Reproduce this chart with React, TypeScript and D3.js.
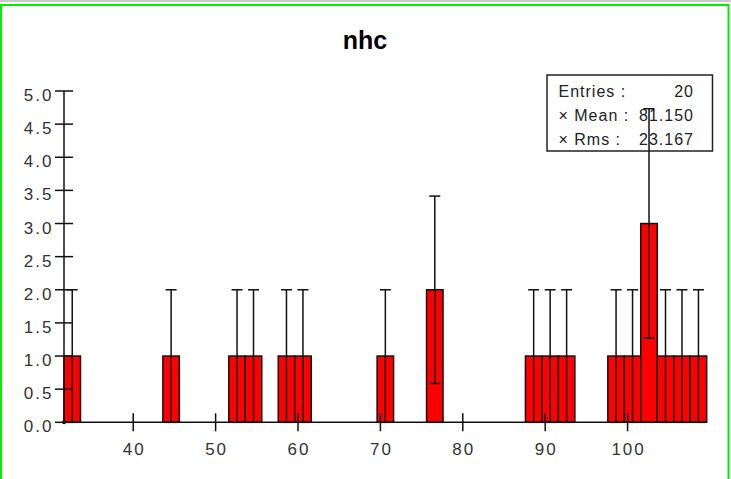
import React from "react";
import * as d3 from "d3";

// histogram "nhc": 39 bins of width 2 starting at 31.6
const binLow = 31.6;
const binWidth = 2.0;
const counts = [
  1, 0, 0, 0, 0, 0, 1, 0, 0, 0,
  1, 1, 0, 1, 1, 0, 0, 0, 0, 1,
  0, 0, 2, 0, 0, 0, 0, 0, 1, 1,
  1, 0, 0, 1, 1, 3, 1, 1, 1,
];
const xTicks = [40, 50, 60, 70, 80, 90, 100];
const yTicks = [0, 0.5, 1, 1.5, 2, 2.5, 3, 3.5, 4, 4.5, 5];
const statLabels = ["Entries :", "\u00d7 Mean :", "\u00d7 Rms :"];
const statValues = ["20", "81.150", "23.167"];

const W = 731;
const H = 479;
const font = "'Liberation Sans', Arial, sans-serif";

const App = () => {
  const binHigh = binLow + binWidth * counts.length;
  const x = d3.scaleLinear().domain([binLow, binHigh]).range([64, 706.7]);
  const y = d3.scaleLinear().domain([0, 5]).range([422.3, 91]);

  const bins = counts.map((c, i) => ({
    x0: binLow + i * binWidth,
    x1: binLow + (i + 1) * binWidth,
    n: c,
  }));
  const filled = bins.filter(b => b.n > 0);
  const cap = 5.5;

  return (
    <svg width={W} height={H} style={{ position: "absolute", left: 0, top: 0, background: "#fff" }}>
      {/* window strip + green frame */}
      <rect x={0} y={0} width={W} height={2} fill="#c8c8c8" />
      <rect x={1} y={5} width={727.5} height={H} fill="#fff" stroke="#00ee00" strokeWidth={2} />

      <text x={365} y={49} textAnchor="middle" fontFamily={font} fontWeight="bold" fontSize={25} fill="#000">
        nhc
      </text>

      {/* stats box */}
      <rect x={547} y={75} width={165.5} height={76} fill="#fff" stroke="#222" strokeWidth={1.5} />
      {statLabels.map((s, i) => (
        <text key={s} x={558.5} y={97 + i * 24} fontFamily={font} fontSize={16} letterSpacing={1} fill="#222">
          {s}
        </text>
      ))}
      {statValues.map((s, i) => (
        <text key={s} x={694} y={97 + i * 24} textAnchor="end" fontFamily={font} fontSize={16} letterSpacing={1} fill="#222">
          {s}
        </text>
      ))}

      {/* bars */}
      {filled.map((b, i) => (
        <rect
          key={"b" + i}
          x={x(b.x0)}
          y={y(b.n)}
          width={x(b.x1) - x(b.x0)}
          height={y(0) - y(b.n)}
          fill="#ff0000"
          stroke="#111"
          strokeWidth={1.5}
        />
      ))}

      {/* error bars, sqrt(n) */}
      {filled.map((b, i) => {
        const cx = x((b.x0 + b.x1) / 2);
        const e = Math.sqrt(b.n);
        const lo = y(b.n - e);
        const hi = y(b.n + e);
        return (
          <g key={"e" + i} stroke="#111" strokeWidth={1.5}>
            <line x1={cx} x2={cx} y1={lo} y2={hi} />
            <line x1={cx - cap} x2={cx + cap} y1={hi} y2={hi} />
            <line x1={cx - cap} x2={cx + cap} y1={lo} y2={lo} />
          </g>
        );
      })}

      {/* axes */}
      <line x1={x(binLow)} x2={x(binHigh)} y1={y(0)} y2={y(0)} stroke="#111" strokeWidth={1.5} />
      <line x1={x(binLow)} x2={x(binLow)} y1={y(0)} y2={y(5)} stroke="#111" strokeWidth={1.5} />
      <circle cx={x(binLow)} cy={y(0)} r={2} fill="#111" />

      {yTicks.map(t => (
        <g key={"y" + t}>
          <line x1={x(binLow) - 9} x2={x(binLow) + 9} y1={y(t)} y2={y(t)} stroke="#111" strokeWidth={1.5} />
          <text x={53.5} y={y(t) + 10} textAnchor="end" fontFamily={font} fontSize={17} letterSpacing={2} fill="#333">
            {d3.format(".1f")(t)}
          </text>
        </g>
      ))}

      {xTicks.map(t => (
        <g key={"x" + t}>
          <line x1={x(t)} x2={x(t)} y1={y(0) - 9} y2={y(0) + 9} stroke="#111" strokeWidth={1.5} />
          <text x={x(t) + 1} y={455} textAnchor="middle" fontFamily={font} fontSize={17} letterSpacing={2} fill="#333">
            {t}
          </text>
        </g>
      ))}
    </svg>
  );
};

export default App;
